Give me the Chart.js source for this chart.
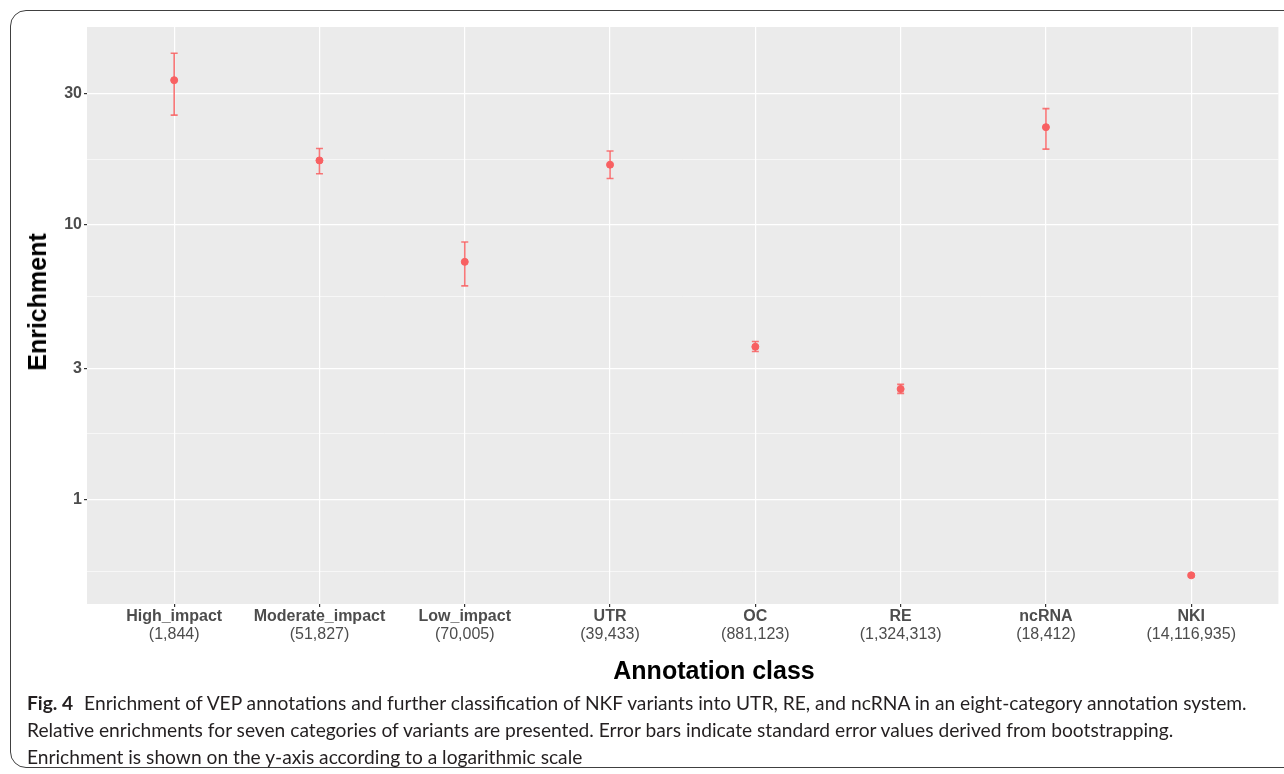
<!DOCTYPE html>
<html>
<head>
<meta charset="utf-8">
<script src="https://cdn.jsdelivr.net/npm/chart.js@4"></script>
<style>
    body { margin: 0; background: #fff; width: 1284px; height: 774px; overflow: hidden; position: relative; }
    #frame {
        position: absolute; left: 10px; top: 10px; width: 1310px; height: 758px;
        border: 1.5px solid #404040; border-radius: 16px; box-sizing: border-box;
    }
    #myChart { position: absolute; left: 0; top: 0; }
    .axisTitle {
        position: absolute; font-family: "Liberation Sans", Arial, sans-serif; font-weight: bold;
        font-size: 25px; line-height: 30px; color: #000; white-space: nowrap;
        transform: translate(-50%, -50%);
    }
    #xTitle { left: 714px; top: 670px; }
    #yTitle { left: 37px; top: 302px; transform: translate(-50%, -50%) rotate(-90deg); }
    #caption {
        position: absolute; left: 27px; top: 689px; width: 1255px;
        font-family: Lato, "Noto Sans", sans-serif; font-size: 19.2px; line-height: 27px; color: #231f20;
        white-space: nowrap;
    }
    #caption b { font-weight: 700; margin-right: 6px; }
</style>
</head>
<body>
<div id="frame"></div>
<canvas id="myChart" width="1284" height="700"></canvas>
<div id="xTitle" class="axisTitle">Annotation class</div>
<div id="yTitle" class="axisTitle">Enrichment</div>
<div id="caption">
    <b>Fig. 4</b> Enrichment of VEP annotations and further classification of NKF variants into UTR, RE, and ncRNA in an eight-category annotation system.<br>
    Relative enrichments for seven categories of variants are presented. Error bars indicate standard error values derived from bootstrapping.<br>
    Enrichment is shown on the y-axis according to a logarithmic scale
</div>
<script>
const categories = ["High_impact", "Moderate_impact", "Low_impact", "UTR", "OC", "RE", "ncRNA", "NKI"];
const counts = ["(1,844)", "(51,827)", "(70,005)", "(39,433)", "(881,123)", "(1,324,313)", "(18,412)", "(14,116,935)"];
const enrichment = [33.5, 17.1, 7.31, 16.5, 3.59, 2.52, 22.6, 0.529];
const errLow = [25.0, 15.3, 5.98, 14.7, 3.45, 2.43, 18.8, 0.523];
const errHigh = [42.0, 18.9, 8.63, 18.5, 3.75, 2.62, 26.4, 0.535];
const yTicks = [1, 3, 10, 30];
const yMinor = [0.548, 1.73, 5.48, 17.3];

const pointColor = "rgb(248, 96, 98)";
const barColor = "rgba(248, 96, 98, 0.85)";
const tickFont = { family: "'Liberation Sans', Arial, sans-serif", size: 16, weight: "bold" };

const whiskers = [];
categories.forEach((c, i) => {
    whiskers.push({ x: i, y: errLow[i] }, { x: i, y: errHigh[i] }, { x: i, y: null });
});
const caps = [];
categories.forEach((c, i) => {
    caps.push({ x: i, y: errLow[i] }, { x: i, y: errHigh[i] });
});
const points = enrichment.map((v, i) => ({ x: i, y: v }));

// grey ggplot panel behind the marks
const panelBg = {
    id: "panelBg",
    beforeDraw(chart) {
        const a = chart.chartArea;
        const ctx = chart.ctx;
        ctx.save();
        ctx.fillStyle = "#ebebeb";
        ctx.fillRect(a.left, a.top, a.right - a.left, a.bottom - a.top);
        ctx.restore();
    },
};

function categoryTicks(scale) {
    scale.ticks = categories.map((c, i) => ({ value: i }));
}

const config = {
    type: "scatter",
    data: {
        datasets: [
            {
                type: "line",
                data: whiskers,
                borderColor: barColor,
                borderWidth: 1.6,
                pointRadius: 0,
                spanGaps: false,
            },
            {
                data: caps,
                pointStyle: "line",
                radius: 3.5,
                borderColor: barColor,
                borderWidth: 1.6,
            },
            {
                data: points,
                pointStyle: "circle",
                radius: 3.5,
                backgroundColor: pointColor,
                borderColor: pointColor,
                borderWidth: 1,
            },
        ],
    },
    options: {
        responsive: false,
        animation: false,
        devicePixelRatio: 1,
        layout: { padding: { top: 27, right: 3, left: 0, bottom: 0 } },
        plugins: { legend: { display: false }, tooltip: { enabled: false } },
        scales: {
            x: {
                type: "linear",
                position: "bottom",
                weight: 0,
                min: -0.6,
                max: 7.6,
                afterBuildTicks: categoryTicks,
                afterFit: (scale) => { scale.height = 21; },
                border: { display: false },
                grid: { color: "#ffffff", lineWidth: 1.2, tickColor: "#333333", tickLength: 3 },
                ticks: {
                    autoSkip: false,
                    maxRotation: 0,
                    padding: 0,
                    color: "#4d4d4d",
                    font: tickFont,
                    callback: (value) => categories[value],
                },
            },
            x2: {
                type: "linear",
                position: "bottom",
                weight: 1,
                min: -0.6,
                max: 7.6,
                afterBuildTicks: categoryTicks,
                afterFit: (scale) => { scale.height = 75; },
                border: { display: false },
                grid: { display: false, drawTicks: false },
                ticks: {
                    autoSkip: false,
                    maxRotation: 0,
                    padding: 0,
                    color: "#4d4d4d",
                    font: { family: "'Liberation Sans', Arial, sans-serif", size: 16 },
                    callback: (value) => counts[value],
                },
            },
            y: {
                type: "logarithmic",
                min: 0.416,
                max: 52.3,
                afterBuildTicks: (scale) => {
                    scale.ticks = [...yMinor, ...yTicks].sort((a, b) => a - b).map((v) => ({ value: v }));
                },
                afterFit: (scale) => { scale.width = 87; },
                border: { display: false },
                grid: {
                    color: "#ffffff",
                    lineWidth: (ctx) => (yTicks.includes(ctx.tick.value) ? 1.2 : 0.6),
                    tickColor: (ctx) => (yTicks.includes(ctx.tick.value) ? "#333333" : "rgba(0,0,0,0)"),
                    tickLength: 3,
                },
                ticks: {
                    autoSkip: false,
                    padding: 2,
                    color: "#4d4d4d",
                    font: tickFont,
                    callback: (value) => (yTicks.includes(value) ? String(value) : ""),
                },
            },
        },
    },
    plugins: [panelBg],
};

const myChart = new Chart(document.getElementById("myChart"), config);
</script>
</body>
</html>
